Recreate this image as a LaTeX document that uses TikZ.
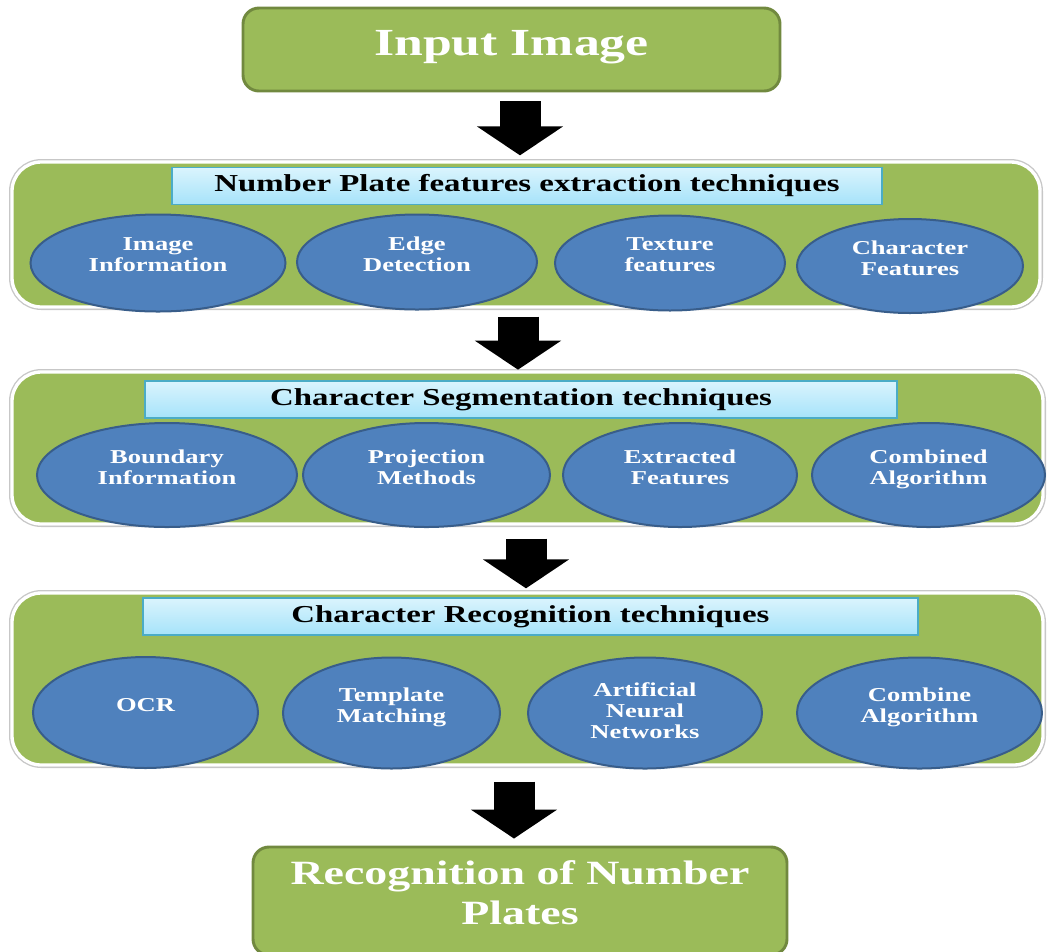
\documentclass[tikz,border=0pt]{standalone}
\usepackage{fontspec}
\setmainfont{Liberation Serif}[FakeStretch=1.35]
\usetikzlibrary{shapes.geometric, shadows, arrows.meta, positioning}

\definecolor{boxgreen}{RGB}{155,187,89}
\definecolor{boxgreenline}{RGB}{113,137,63}
\definecolor{ovalblue}{RGB}{79,129,189}
\definecolor{ovalline}{RGB}{56,93,138}
\definecolor{titletop}{RGB}{218,244,253}
\definecolor{titlebot}{RGB}{166,227,250}
\definecolor{titleline}{RGB}{75,172,198}

\tikzset{
	endbox/.style={draw=boxgreenline, line width=2.2pt, fill=boxgreen, rounded corners=12pt, text=white, align=center, font=\bfseries\fontsize{28.75}{30}\selectfont},
	panel/.style={draw=white, line width=2.5pt, fill=boxgreen, rounded corners=22pt, preaction={draw=black!22, line width=4.5pt}, drop shadow={shadow xshift=1pt, shadow yshift=-1.2pt, opacity=0.3}},
	titlebox/.style={draw=titleline, line width=1.1pt, top color=titletop, bottom color=titlebot, minimum height=27.5pt, font=\bfseries\fontsize{18.25}{20}\selectfont, drop shadow={shadow xshift=0.8pt, shadow yshift=-0.8pt, opacity=0.3}},
	oval/.style={ellipse, draw=ovalline, line width=1.5pt, fill=ovalblue, text=white, align=center, inner sep=0pt, text depth=12pt, font=\bfseries\fontsize{14.75}{15.75}\selectfont},
	bigarrow/.style={line width=30.75pt, -{Triangle[width=63.75pt,length=21.75pt]}}
}

\begin{document}
\begin{tikzpicture}[x=0.75pt,y=0.75pt,yscale=-1,xscale=1]
	\useasboundingbox (0,0) rectangle (1050,951);

	% start and end boxes
	\node[endbox, minimum width=402.75pt, minimum height=62.25pt, text depth=10pt] (inp) at (511.5,49.5) {Input Image};
	\node[endbox, minimum width=400.5pt, minimum height=81pt, text depth=12pt, font=\bfseries\fontsize{25.5}{30}\selectfont] (out) at (520,901) {Recognition of Number\\Plates};

	% panels
	\node[panel, minimum width=771pt, minimum height=108.75pt] (feat) at (526,234.5) {};
	\node[panel, minimum width=773.25pt, minimum height=114pt] (segm) at (527.5,448) {};
	\node[panel, minimum width=773.25pt, minimum height=129pt] (recog) at (527.5,679) {};

	% panel titles
	\node[titlebox, minimum width=532.5pt] (featT) at (527,186) {Number Plate features extraction techniques};
	\node[titlebox, minimum width=564pt] (segmT) at (521,399.5) {Character Segmentation techniques};
	\node[titlebox, minimum width=581.25pt] (recogT) at (530.5,616.5) {Character Recognition techniques};

	% features extraction
	\node[oval, minimum width=191.25pt, minimum height=72.75pt] (imginfo) at (158,263) {Image\\Information};
	\node[oval, minimum width=180pt, minimum height=71.25pt] (edge) at (417,262) {Edge\\Detection};
	\node[oval, minimum width=172.5pt, minimum height=71.25pt] (texture) at (670,263) {Texture\\features};
	\node[oval, minimum width=169.5pt, minimum height=70.5pt] (charfeat) at (910,266) {Character\\Features};

	% segmentation
	\node[oval, minimum width=195pt, minimum height=78pt] (boundary) at (167,475) {Boundary\\Information};
	\node[oval, minimum width=185.25pt, minimum height=78pt] (projection) at (426.5,475) {Projection\\Methods};
	\node[oval, minimum width=175.5pt, minimum height=78pt] (extracted) at (680,475) {Extracted\\Features};
	\node[oval, minimum width=174.75pt, minimum height=78pt] (combined) at (928.5,475) {Combined\\Algorithm};

	% recognition
	\node[oval, minimum width=168.75pt, minimum height=83.25pt] (ocr) at (145.5,712.5) {OCR};
	\node[oval, minimum width=162.75pt, minimum height=83.25pt] (template) at (391.5,713) {Template\\Matching};
	\node[oval, minimum width=175.5pt, minimum height=83.25pt, text depth=3pt] (ann) at (645,713) {Artificial\\Neural\\Networks};
	\node[oval, minimum width=183.75pt, minimum height=83.25pt] (combine) at (919.5,713) {Combine\\Algorithm};

	% arrows
	\coordinate (a1) at (520,0);
	\coordinate (a2) at (518,0);
	\coordinate (a3) at (526,0);
	\coordinate (a4) at (514,0);
	\draw[bigarrow, shorten <=6.75pt, shorten >=3.75pt] (inp.south -| a1) -- (feat.north -| a1);
	\draw[bigarrow, shorten <=6pt, shorten >=0.5pt] (feat.south -| a2) -- (segm.north -| a2);
	\draw[bigarrow, shorten <=9.75pt, shorten >=2.25pt] (segm.south -| a3) -- (recog.north -| a3);
	\draw[bigarrow, shorten <=11.25pt, shorten >=5.25pt] (recog.south -| a4) -- (out.north -| a4);
\end{tikzpicture}
\end{document}
